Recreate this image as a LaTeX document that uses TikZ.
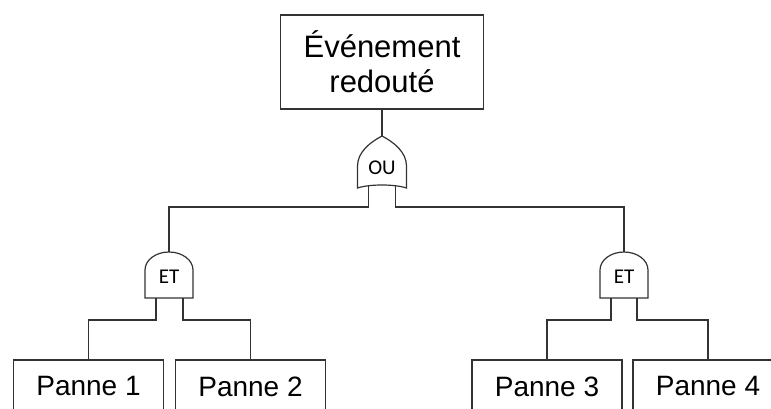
\documentclass[tikz,border=0pt]{standalone}
\usepackage{fontspec}
\setmainfont{Liberation Sans}
\newfontfamily\gatefont{Carlito}
\begin{document}
\begin{tikzpicture}[x=1pt,y=-1pt]
\tikzstyle{event}=[rectangle,draw=black!80,line width=1.2pt,inner sep=0pt,align=center]
\tikzstyle{panne}=[event,minimum width=150pt,minimum height=53pt,font=\fontsize{28}{32}\selectfont]
\tikzstyle{gateLabel}=[inner sep=0pt,font=\gatefont\fontsize{21}{21}\selectfont]
\tikzstyle{wire}=[draw=black!80,line width=1.2pt]
\useasboundingbox (0,0) rectangle (771,409);

%top event
\node[event,minimum width=203pt,minimum height=94pt,font=\fontsize{31}{35}\selectfont] (top) at (382,62) {Événement\\redouté};

%basic events
\node[panne] (p1) at (88.5,386.5) {Panne 1};
\node[panne] (p2) at (250.5,386.5) {Panne 2};
\node[panne] (p3) at (547,386.5) {Panne 3};
\node[panne] (p4) at (708,386.5) {Panne 4};

%OU gate
\node[gateLabel] (ou) at (382,168) {OU};
\draw[wire] (357.5,188) -- (357.5,166) .. controls (357.5,152) and (370.5,142) .. (382,136)
  .. controls (393.5,142) and (406.5,152) .. (406.5,166) -- (406.5,188)
  .. controls (394.5,184) and (369.5,184) .. cycle;
\coordinate (ouTip) at (382,136);
\coordinate (ouL) at (368.5,186);
\coordinate (ouR) at (395.5,186);

%ET gates
\node[gateLabel] (et1) at (169,277) {ET};
\draw[wire] (145,298) -- (145,270) arc[start angle=180,end angle=360,x radius=24,y radius=18] -- (193,298) -- cycle;
\coordinate (et1Tip) at (169,252);
\coordinate (et1L) at (156,298);
\coordinate (et1R) at (183,298);

\node[gateLabel] (et2) at (624,277) {ET};
\draw[wire] (600,298) -- (600,270) arc[start angle=180,end angle=360,x radius=24,y radius=18] -- (648,298) -- cycle;
\coordinate (et2Tip) at (624,252);
\coordinate (et2L) at (611,298);
\coordinate (et2R) at (637,298);

% connections
\draw[wire] (top.south) -- (ouTip);
\draw[wire] (ouL) -- ++(0,21) -| (et1Tip);
\draw[wire] (ouR) -- ++(0,21) -| (et2Tip);

\draw[wire] (et1L) -- ++(0,22) -| (p1.north);
\draw[wire] (et1R) -- ++(0,22) -| (p2.north);
\draw[wire] (et2L) -- ++(0,22) -| (p3.north);
\draw[wire] (et2R) -- ++(0,22) -| (p4.north);

\end{tikzpicture}
\end{document}
